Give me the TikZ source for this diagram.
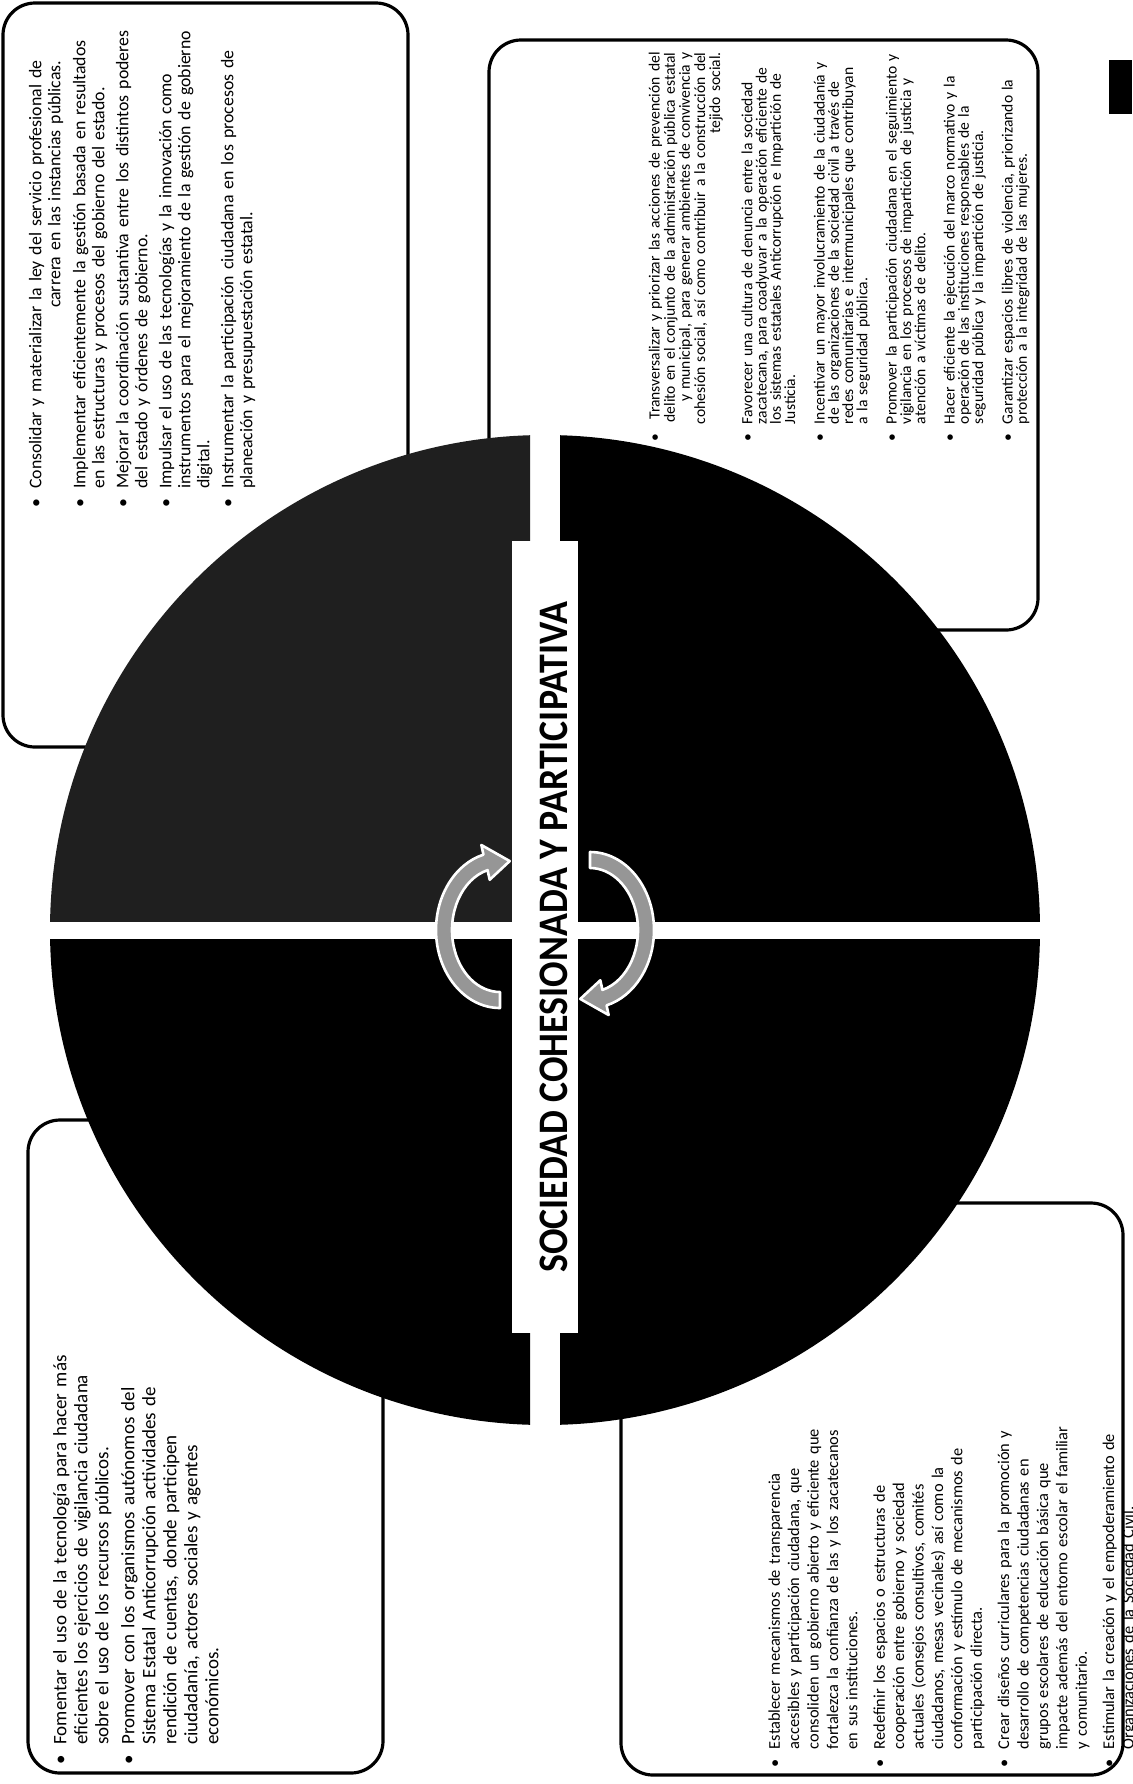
\documentclass[tikz,border=0pt]{standalone}
\usepackage{fontspec}
\setmainfont{Carlito}
\usetikzlibrary{calc}
\definecolor{arrowgray}{RGB}{150,150,150}
\makeatletter
\def\@listI{\leftmargin\leftmargini \parsep\z@ \topsep\z@ \partopsep\z@ \itemsep\z@}
\let\@listi\@listI
\makeatother

\begin{document}
\begin{tikzpicture}[x=0.5pt,y=0.5pt,
    panel/.style={draw=black, line width=1.6pt, rounded corners=16pt},
    listtext/.style={rotate=90, anchor=north west, inner sep=0pt, align=left},
    turnarrow/.style={fill=arrowgray, draw=white, line width=1.3pt, line join=round}]
\useasboundingbox[fill=white] (0,0) rectangle (1132,-1784);

% frames behind the circle
\draw[panel] (3,-3) rectangle (408,-747);
\draw[panel] (489,-40) rectangle (1038,-630);
\draw[panel] (28,-1120) rectangle (383,-1773);
\draw[panel] (621,-1203) rectangle (1123,-1775);
\fill (1109,-60) rectangle (1132,-114);

% four quarters of the circle
\coordinate (circ) at (545,-930);
\foreach \xa/\xb/\ya/\yb/\qcol in {40/530/-430/-921/black!88, 560/1050/-430/-921/black,
    40/530/-939/-1430/black, 560/1050/-939/-1430/black}{
  \begin{scope}
    \clip (\xa,\ya) rectangle (\xb,\yb);
    \fill[\qcol] (circ) circle[radius=495];
  \end{scope}
}

% title bar
\node[fill=white, inner sep=0pt, minimum width=33pt, minimum height=396pt] (titlebar) at (545,-937) {};
\node[rotate=90, font=\bfseries\fontsize{21}{21}\selectfont] (title) at ($(titlebar.center)+(9,0)$)
      {\scalebox{0.9}[1]{SOCIEDAD COHESIONADA Y PARTICIPATIVA}};

% turning arrows
\coordinate (lc) at (500,-930);
\coordinate (rc) at (590,-930);
\filldraw[turnarrow] ($(lc)+(270:64 and 78)$) arc[start angle=270, end angle=105, x radius=64, y radius=78]
  -- ($(lc)+(105:72 and 88)$) -- ($(lc)+(80:56 and 70)$) -- ($(lc)+(105:40 and 52)$) -- ($(lc)+(105:48 and 62)$)
  arc[start angle=105, end angle=270, x radius=48, y radius=62] -- cycle;
\filldraw[turnarrow] ($(rc)+(90:64 and 78)$) arc[start angle=90, end angle=-75, x radius=64, y radius=78]
  -- ($(rc)+(-75:72 and 88)$) -- ($(rc)+(-100:56 and 70)$) -- ($(rc)+(-75:40 and 52)$) -- ($(rc)+(-75:48 and 62)$)
  arc[start angle=-75, end angle=90, x radius=48, y radius=62] -- cycle;

% texts
\node[listtext, text width=260pt, font=\fontsize{8.9}{9.5}\selectfont] (tltext) at (22,-507) {%
  \setlength{\leftmargini}{1em}%
  \begin{itemize}\setlength{\itemsep}{2.5pt}
    \item \begin{tabular}[t]{@{}r@{}}Consolidar y materializar la ley del servicio profesional de\\ carrera en las instancias públicas.\end{tabular}
    \item Implementar eficientemente la gestión basada en resultados\\ en las estructuras y procesos del gobierno del estado.
    \item Mejorar la coordinación sustantiva entre los distintos poderes\\ del estado y órdenes de gobierno.
    \item Impulsar el uso de las tecnologías y la innovación como\\ instrumentos para el mejoramiento de la gestión de gobierno\\ digital.
    \item Instrumentar la participación ciudadana en los procesos de\\ planeación y presupuestación estatal.
  \end{itemize}};

\node[listtext, text width=210pt, font=\fontsize{7.8}{7.15}\selectfont] (trtext) at (645,-440) {%
  \setlength{\leftmargini}{1em}%
  \begin{itemize}\setlength{\itemsep}{7.5pt}
    \item \begin{tabular}[t]{@{}r@{}}Transversalizar y priorizar las acciones de prevención del\\ delito en el conjunto de la administración pública estatal\\ y municipal, para generar ambientes de convivencia y\\ cohesión social, así como contribuir a la construcción del\\ tejido social.\end{tabular}
    \item Favorecer una cultura de denuncia entre la sociedad\\ zacatecana, para coadyuvar a la operación eficiente de\\ los sistemas estatales Anticorrupción e Impartición de\\ Justicia.
    \item Incentivar un mayor involucramiento de la ciudadanía y\\ de las organizaciones de la sociedad civil a través de\\ redes comunitarias e intermunicipales que contribuyan\\ a la seguridad pública.
    \item Promover la participación ciudadana en el seguimiento y\\ vigilancia en los procesos de impartición de justicia y\\ atención a víctimas de delito.
    \item Hacer eficiente la ejecución del marco normativo y la\\ operación de las instituciones responsables de la\\ seguridad pública y la impartición de justicia.
    \item Garantizar espacios libres de violencia, priorizando la\\ protección a la integridad de las mujeres.
  \end{itemize}};

\node[listtext, text width=235pt, font=\fontsize{9.5}{10.5}\selectfont] (bltext) at (45,-1764) {%
  \setlength{\leftmargini}{1em}%
  \begin{itemize}\setlength{\itemsep}{2.5pt}
    \item Fomentar el uso de la tecnología para hacer más\\ eficientes los ejercicios de vigilancia ciudadana\\ sobre el uso de los recursos públicos.
    \item Promover con los organismos autónomos del\\ Sistema Estatal Anticorrupción actividades de\\ rendición de cuentas, donde participen\\ ciudadanía, actores sociales y agentes\\ económicos.
  \end{itemize}};

\node[listtext, text width=195pt, font=\fontsize{8.2}{9.7}\selectfont] (brtext) at (760,-1766) {%
  \setlength{\leftmargini}{1em}%
  \begin{itemize}\setlength{\itemsep}{4pt}
    \item Establecer mecanismos de transparencia\\ accesibles y participación ciudadana, que\\ consoliden un gobierno abierto y eficiente que\\ fortalezca la confianza de las y los zacatecanos\\ en sus instituciones.
    \item Redefinir los espacios o estructuras de\\ cooperación entre gobierno y sociedad\\ actuales (consejos consultivos, comités\\ ciudadanos, mesas vecinales) así como la\\ conformación y estímulo de mecanismos de\\ participación directa.
    \item Crear diseños curriculares para la promoción y\\ desarrollo de competencias ciudadanas en\\ grupos escolares de educación básica que\\ impacte además del entorno escolar el familiar\\ y comunitario.
    \item Estimular la creación y el empoderamiento de\\ Organizaciones de la Sociedad Civil.
  \end{itemize}};
\end{tikzpicture}
\end{document}
